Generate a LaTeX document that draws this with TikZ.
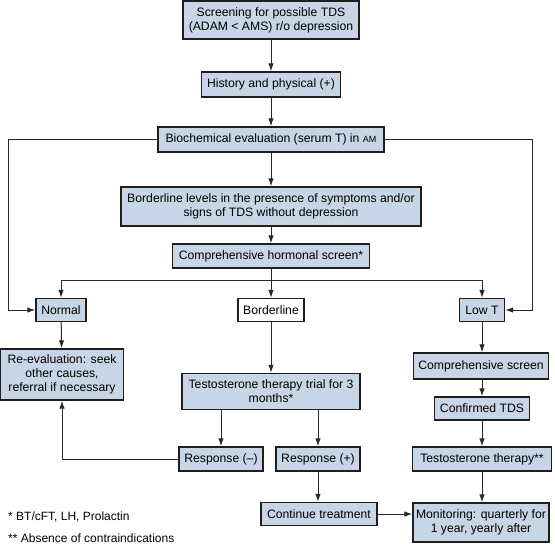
\documentclass[tikz,border=0pt]{standalone}
\usepackage{fontspec}
\setmainfont{Liberation Sans}
\usetikzlibrary{arrows.meta}
\definecolor{boxfill}{RGB}{200,213,230}
\definecolor{edgecol}{RGB}{30,30,30}
\definecolor{conncol}{RGB}{40,40,40}
\begin{document}
\begin{tikzpicture}[x=1pt,y=-1pt,
  box/.style={draw=edgecol, fill=boxfill, line width=1.4pt, inner sep=0pt, align=center,
              font=\fontsize{12.2}{14}\selectfont, text=black},
  wbox/.style={box, fill=white},
  conn/.style={draw=conncol, line width=1pt},
  arr/.style={conn, -{Latex[length=8pt,width=5.5pt]}},
  note/.style={font=\fontsize{12}{13.8}\selectfont, anchor=west, inner sep=0pt, text=black}]
\useasboundingbox (0,0) rectangle (555,544);

\node[box, minimum width=176pt, minimum height=38pt] (scr) at (271,20) {Screening for possible TDS\\(ADAM < AMS) r/o depression};
\node[box, minimum width=139pt, minimum height=25pt] (hist) at (271,84.5) {History and physical (+)};
\node[box, minimum width=226pt, minimum height=25pt] (bio) at (271,139.5) {Biochemical evaluation (serum T) in {\fontsize{9}{10}\selectfont AM}};
\node[box, minimum width=300pt, minimum height=39pt] (bll) at (271,206.5) {Borderline levels in the presence of symptoms and/or\\signs of TDS without depression};
\node[box, minimum width=197pt, minimum height=24pt] (chs) at (271,256) {Comprehensive hormonal screen*};

\node[box, minimum width=50pt, minimum height=23pt] (normal) at (61,310) {Normal};
\node[wbox, minimum width=66pt, minimum height=23pt] (border) at (271,310) {Borderline};
\node[box, minimum width=45pt, minimum height=23pt] (lowt) at (482,310) {Low T};

\node[box, minimum width=123pt, minimum height=51pt] (reeval) at (62,374.5) {Re-evaluation: seek\\other causes,\\referral if necessary};
\node[box, minimum width=178pt, minimum height=36pt] (trial) at (271,391.5) {Testosterone therapy trial for 3\\months*};
\node[box, minimum width=135pt, minimum height=26pt] (cscr) at (481,366) {Comprehensive screen};
\node[box, minimum width=95pt, minimum height=23pt] (ctds) at (482,408.5) {Confirmed TDS};
\node[box, minimum width=139pt, minimum height=24pt] (tth) at (482,459) {Testosterone therapy**};

\node[box, minimum width=84pt, minimum height=24pt] (rneg) at (221,459) {Response (--)};
\node[box, minimum width=84pt, minimum height=24pt] (rpos) at (318,459) {Response (+)};
\node[box, minimum width=116pt, minimum height=23pt] (cont) at (319,514) {Continue treatment};
\node[box, minimum width=136pt, minimum height=39pt] (mon) at (481,522.5) {Monitoring: quarterly for\\1 year, yearly after};

\node[note] (n1) at (8,517) {* BT/cFT, LH, Prolactin};
\node[note] (n2) at (8,538) {** Absence of contraindications};

% connectors
\draw[arr] (scr) -- (hist);
\draw[arr] (hist) -- (bio);
\draw[arr] (bio) -- (bll);
\draw[arr] (bll) -- (chs);
\coordinate (split) at (271,280);
\draw[conn] (chs.south) -- (split);
\draw[arr] (split) -| (normal.north);
\draw[arr] (split) -| (lowt.north);
\draw[arr] (split) -- (border.north);
\coordinate (lt) at (8.5,139.5);
\coordinate (lb) at (8.5,310);
\draw[arr] (bio.west) -- (lt) -- (lb) -- (normal.west);
\coordinate (rt) at (532,139.5);
\coordinate (rb) at (532,310);
\draw[arr] (bio.east) -- (rt) -- (rb) -- (lowt.east);
\draw[arr] (normal) -- (reeval);
\draw[arr] (border) -- (trial);
\draw[arr] (trial.south -| rneg.north) -- (rneg.north);
\draw[arr] (trial.south -| rpos.north) -- (rpos.north);
\draw[arr] (rpos.south) -- (rpos.south |- cont.north);
\draw[arr] (rneg.west) -| (reeval.south);
\draw[arr] (lowt.south) -- (lowt.south |- cscr.north);
\draw[arr] (ctds.north |- cscr.south) -- (ctds.north);
\draw[arr] (ctds) -- (tth);
\draw[arr] (tth.south) -- (tth.south |- mon.north);
\draw[arr] (cont.east) -- (cont.east -| mon.west);
\end{tikzpicture}
\end{document}
